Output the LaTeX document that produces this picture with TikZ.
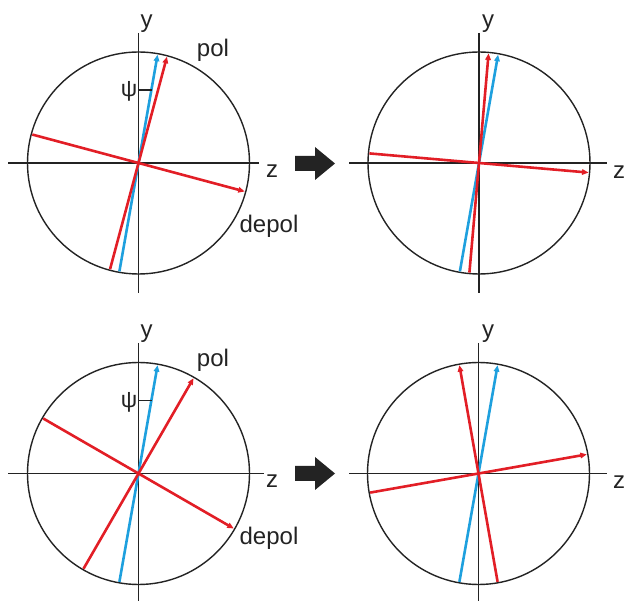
\documentclass[tikz,border=0pt]{standalone}
\usepackage{fontspec}
\setmainfont{Liberation Sans}
\usetikzlibrary{arrows.meta}
\definecolor{vred}{RGB}{226,30,38}
\definecolor{vblue}{RGB}{30,160,222}
\definecolor{ink}{RGB}{35,35,35}
\begin{document}
\begin{tikzpicture}[x=1pt,y=-1pt,
  axisline/.style={line width=1.4pt, ink},
  ring/.style={circle, draw=ink, line width=1.4pt, minimum size=222pt, inner sep=0pt},
  vec/.style={line width=2.6pt, -{Triangle[length=6.5pt,width=5.5pt]}},
  redvec/.style={vec, vred},
  bluevec/.style={vec, vblue},
  lbl/.style={font=\fontsize{24}{28}\selectfont, inner sep=0pt, anchor=base, text=ink},
  psilbl/.style={font=\fontsize{23}{26}\selectfont, inner sep=0pt, text=ink},
  tick/.style={line width=1.2pt, ink},
  bigarrow/.style={fill=ink, draw=none}]
\useasboundingbox (0,0) rectangle (627,601);

% ---------- top left ----------
\coordinate (TLc) at (138.5,163);
\node[ring] (TLring) at (TLc) {};
\coordinate (TLzA) at (8,163);   \coordinate (TLzB) at (259,163);
\coordinate (TLyA) at (138.5,33); \coordinate (TLyB) at (138.5,293);
\draw[axisline] (TLzA) -- (TLzB);
\draw[axisline] (TLyA) -- (TLyB);
\begin{scope}[shift={(TLc)}, yscale=-1]
  \coordinate (TLb1) at (260:110); \coordinate (TLb2) at (80:110);
  \coordinate (TLp1) at (255:110); \coordinate (TLp2) at (75:110);
  \coordinate (TLd1) at (165:110); \coordinate (TLd2) at (-15:110);
\end{scope}
\draw[bluevec] (TLb1) -- (TLb2);
\draw[redvec] (TLp1) -- (TLp2);
\draw[redvec] (TLd1) -- (TLd2);
\coordinate (TLt1) at (138.5,90); \coordinate (TLt2) at (151.5,90);
\draw[tick] (TLt1) -- (TLt2);
\node[psilbl] (TLpsi) at (129,91) {ψ};
\node[lbl] (TLy) at (146.5,28) {y};
\node[lbl] (TLz) at (272,178) {z};
\node[lbl] (TLpol) at (213,57) {pol};
\node[lbl] (TLdepol) at (269,233) {depol};

% ---------- top arrow ----------
\fill[bigarrow] (295,156) -- (315,156) -- (315,147) -- (335,163.5) -- (315,180) -- (315,171) -- (295,171) -- cycle;

% ---------- top right ----------
\coordinate (TRc) at (479,163);
\node[ring] (TRring) at (TRc) {};
\coordinate (TRzA) at (349,163);  \coordinate (TRzB) at (607,163);
\coordinate (TRyA) at (479,33);   \coordinate (TRyB) at (479,293);
\draw[axisline] (TRzA) -- (TRzB);
\draw[axisline] (TRyA) -- (TRyB);
\begin{scope}[shift={(TRc)}, yscale=-1]
  \coordinate (TRb1) at (260:110); \coordinate (TRb2) at (80:110);
  \coordinate (TRp1) at (265:110); \coordinate (TRp2) at (85:110);
  \coordinate (TRd1) at (175:110); \coordinate (TRd2) at (-5:110);
\end{scope}
\draw[bluevec] (TRb1) -- (TRb2);
\draw[redvec] (TRp1) -- (TRp2);
\draw[redvec] (TRd1) -- (TRd2);
\node[lbl] (TRy) at (488,28) {y};
\node[lbl] (TRz) at (619,179) {z};

% ---------- bottom left ----------
\coordinate (BLc) at (138.5,473.5);
\node[ring] (BLring) at (BLc) {};
\coordinate (BLzA) at (8,473.5);   \coordinate (BLzB) at (264,473.5);
\coordinate (BLyA) at (138.5,343); \coordinate (BLyB) at (138.5,601);
\draw[axisline] (BLzA) -- (BLzB);
\draw[axisline] (BLyA) -- (BLyB);
\begin{scope}[shift={(BLc)}, yscale=-1]
  \coordinate (BLb1) at (260:110); \coordinate (BLb2) at (80:110);
  \coordinate (BLp1) at (240:110); \coordinate (BLp2) at (60:110);
  \coordinate (BLd1) at (150:110); \coordinate (BLd2) at (-30:110);
\end{scope}
\draw[bluevec] (BLb1) -- (BLb2);
\draw[redvec] (BLp1) -- (BLp2);
\draw[redvec] (BLd1) -- (BLd2);
\coordinate (BLt1) at (138.5,400.5); \coordinate (BLt2) at (151.5,400.5);
\draw[tick] (BLt1) -- (BLt2);
\node[psilbl] (BLpsi) at (129,402) {ψ};
\node[lbl] (BLy) at (146.5,338) {y};
\node[lbl] (BLz) at (272,488) {z};
\node[lbl] (BLpol) at (213,367) {pol};
\node[lbl] (BLdepol) at (269,544) {depol};

% ---------- bottom arrow ----------
\fill[bigarrow] (295,466) -- (315,466) -- (315,457) -- (335,473.5) -- (315,490) -- (315,481) -- (295,481) -- cycle;

% ---------- bottom right ----------
\coordinate (BRc) at (478.5,473.5);
\node[ring] (BRring) at (BRc) {};
\coordinate (BRzA) at (349,473.5);  \coordinate (BRzB) at (607,473.5);
\coordinate (BRyA) at (478.5,343);  \coordinate (BRyB) at (478.5,601);
\draw[axisline] (BRzA) -- (BRzB);
\draw[axisline] (BRyA) -- (BRyB);
\begin{scope}[shift={(BRc)}, yscale=-1]
  \coordinate (BRb1) at (260:110); \coordinate (BRb2) at (80:110);
  \coordinate (BRp1) at (280:110); \coordinate (BRp2) at (100:110);
  \coordinate (BRd1) at (190:110); \coordinate (BRd2) at (10:110);
\end{scope}
\draw[bluevec] (BRb1) -- (BRb2);
\draw[redvec] (BRp1) -- (BRp2);
\draw[redvec] (BRd1) -- (BRd2);
\node[lbl] (BRy) at (488,338) {y};
\node[lbl] (BRz) at (619,489) {z};
\end{tikzpicture}
\end{document}
